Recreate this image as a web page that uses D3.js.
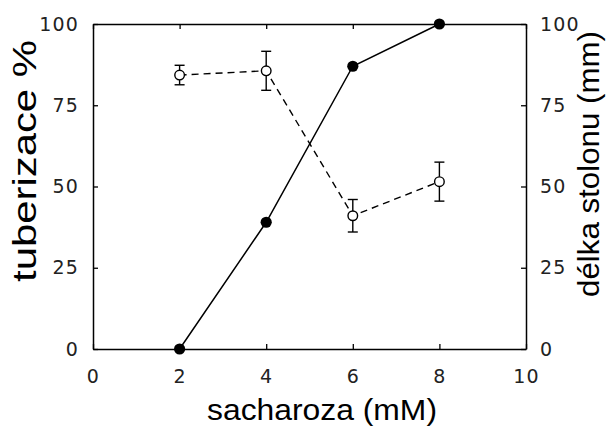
<!DOCTYPE html>
<html>
<head>
<meta charset="utf-8">
<script src="https://cdn.jsdelivr.net/npm/d3@7"></script>
<style>
  html, body { margin: 0; padding: 0; background: #fff; }
  svg { display: block; }
  .tick text { font-family: "DejaVu Sans", sans-serif; font-size: 19px; fill: #222; letter-spacing: 1.2px; }
  .title { font-family: "Liberation Sans", Arial, sans-serif; fill: #000; }
</style>
</head>
<body>
<svg id="chart" width="607" height="426"></svg>
<script>
// ---- data ----
const concentrations = [2, 4, 6, 8];                 // sacharoza (mM)
const tuberization = [0, 39, 87, 100];              // tuberizace % (filled, solid)
const stolonLength = [84.3, 85.6, 41, 51.5];        // délka stolonu (mm) (open, dashed)
const stolonError = [3, 6, 5, 6];                   // error bars (mm)
const xTicks = [0, 2, 4, 6, 8, 10];
const yTicks = [0, 25, 50, 75, 100];
const xLabel = "sacharoza (mM)";
const yLeftLabel = "tuberizace %";
const yRightLabel = "délka stolonu (mm)";

const svg = d3.select("#chart");
const x = d3.scaleLinear().domain([0, 10]).range([93, 526]);
const yL = d3.scaleLinear().domain([0, 100]).range([349, 24]);
const yR = d3.scaleLinear().domain([0, 100]).range([349, 24]);

const ax = svg.append("g");
// bottom axis
ax.append("g").attr("transform", `translate(0,${yL(0)})`)
  .call(d3.axisBottom(x).tickValues(xTicks).tickSizeInner(-5).tickSizeOuter(0).tickPadding(21).tickFormat(d3.format("d")));
// top axis (ticks only)
ax.append("g").attr("transform", `translate(0,${yL(100)})`)
  .call(d3.axisTop(x).tickValues(xTicks).tickSizeInner(-5).tickSizeOuter(0).tickFormat(""));
// left axis
ax.append("g").attr("transform", `translate(${x(0)},0)`)
  .call(d3.axisLeft(yL).tickValues(yTicks).tickSizeInner(-5).tickSizeOuter(0).tickPadding(14).tickFormat(d3.format("d")));
// right axis
ax.append("g").attr("transform", `translate(${x(10)},0)`)
  .call(d3.axisRight(yR).tickValues(yTicks).tickSizeInner(-5).tickSizeOuter(0).tickPadding(14).tickFormat(d3.format("d")));
ax.selectAll(".domain").attr("stroke", "#000").attr("stroke-width", 1.5);
ax.selectAll(".tick line").attr("stroke", "#000").attr("stroke-width", 1.3);

// dashed line (stolon length)
const pts2 = concentrations.map((c, i) => [c, stolonLength[i], stolonError[i]]);
svg.append("path").datum(pts2)
  .attr("fill", "none").attr("stroke", "#000").attr("stroke-width", 1.4)
  .attr("stroke-dasharray", "7,5")
  .attr("d", d3.line().x(d => x(d[0])).y(d => yR(d[1])));

// error bars
const eb = svg.append("g").attr("stroke", "#000").attr("stroke-width", 1.4);
pts2.forEach(d => {
  const cx = x(d[0]);
  eb.append("line").attr("x1", cx).attr("x2", cx).attr("y1", yR(d[1] + d[2])).attr("y2", yR(d[1] - d[2]));
  eb.append("line").attr("x1", cx - 5).attr("x2", cx + 5).attr("y1", yR(d[1] + d[2])).attr("y2", yR(d[1] + d[2]));
  eb.append("line").attr("x1", cx - 5).attr("x2", cx + 5).attr("y1", yR(d[1] - d[2])).attr("y2", yR(d[1] - d[2]));
});
svg.append("g").selectAll("circle").data(pts2).join("circle")
  .attr("cx", d => x(d[0])).attr("cy", d => yR(d[1])).attr("r", 4.8)
  .attr("fill", "#fff").attr("stroke", "#000").attr("stroke-width", 1.4);

// solid line (tuberization)
const pts1 = concentrations.map((c, i) => [c, tuberization[i]]);
svg.append("path").datum(pts1)
  .attr("fill", "none").attr("stroke", "#000").attr("stroke-width", 1.5)
  .attr("d", d3.line().x(d => x(d[0])).y(d => yL(d[1])));
svg.append("g").selectAll("circle").data(pts1).join("circle")
  .attr("cx", d => x(d[0])).attr("cy", d => yL(d[1])).attr("r", 5.6)
  .attr("fill", "#000");

// titles
svg.append("text").attr("class", "title")
  .attr("x", 322).attr("y", 420).attr("text-anchor", "middle")
  .attr("font-size", 29).attr("textLength", 230).attr("lengthAdjust", "spacingAndGlyphs")
  .text(xLabel);
svg.append("text").attr("class", "title")
  .attr("transform", "translate(36,161) rotate(-90)").attr("text-anchor", "middle")
  .attr("font-size", 33).attr("textLength", 242).attr("lengthAdjust", "spacingAndGlyphs")
  .text(yLeftLabel);
svg.append("text").attr("class", "title")
  .attr("transform", "translate(599,164) rotate(-90)").attr("text-anchor", "middle")
  .attr("font-size", 30).attr("textLength", 266).attr("lengthAdjust", "spacingAndGlyphs")
  .text(yRightLabel);
</script>
</body>
</html>
